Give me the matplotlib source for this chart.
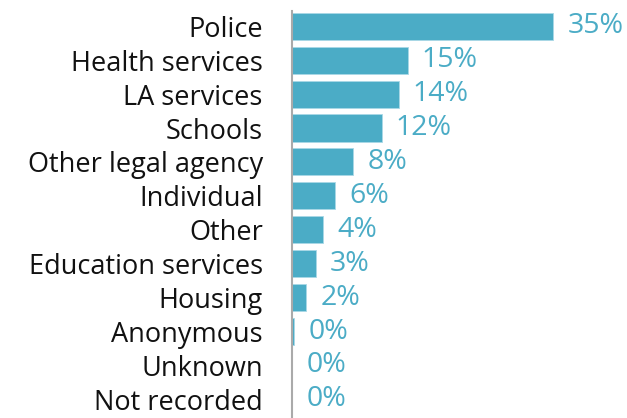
import matplotlib.pyplot as plt

categories = ['Police', 'Health services', 'LA services', 'Schools', 'Other legal agency',
              'Individual', 'Other', 'Education services', 'Housing', 'Anonymous',
              'Unknown', 'Not recorded']
values = [35, 15.5, 14.3, 12, 8.2, 5.8, 4.2, 3.2, 1.9, 0.3, 0, 0]
labels = ['35%', '15%', '14%', '12%', '8%', '6%', '4%', '3%', '2%', '0%', '0%', '0%']

plt.rcParams['font.family'] = ['Open Sans', 'DejaVu Sans']

fig = plt.figure(figsize=(6.27, 4.18), dpi=100)
ax = fig.add_axes([292 / 627, 0.0, 1 - 292 / 627, 1 - 11 / 418])

colour = '#4bacc6'
y = list(range(len(categories)))
ax.barh(y, values, height=0.8, color=colour, edgecolor='#a9d8e6', linewidth=0.6)
for i, (v, lab) in enumerate(zip(values, labels)):
    ax.text(v + 1.9, i, lab, va='center', ha='left', fontsize=20.5, color=colour)

ax.set_yticks(y)
ax.set_yticklabels(categories, fontsize=19.5, color='#111111')
ax.set_ylim(len(categories) - 0.5 + 0.05, -0.5 + 0.05)
ax.set_xlim(0, 44.9)
ax.tick_params(axis='y', length=0, pad=21)
ax.set_xticks([])
for side in ['top', 'right', 'bottom']:
    ax.spines[side].set_visible(False)
ax.spines['left'].set_color('#aaaaaa')
ax.spines['left'].set_linewidth(1.5)

fig.savefig('out.png', dpi=100)
